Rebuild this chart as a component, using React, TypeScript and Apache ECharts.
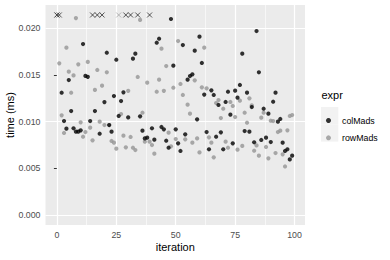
import React, { useEffect, useRef } from "react";
import * as echarts from "echarts";

// iteration index 0..99; null = value above the plotted range (drawn as a cross at the top)
const colMadsTime: (number | null)[] = [
  null, null, 0.0131, 0.01007, 0.00925, 0.01446, 0.01114, 0.00929, 0.00893, 0.00893,
  0.00907, 0.01832, 0.0149, 0.0148, 0.01007, null, 0.01114, null, 0.00871, null,
  0.0121, 0.01739, 0.00964, 0.00893, 0.01275, 0.01664, 0.01061, 0.01221, 0.01314, null,
  0.01046, null, 0.01675, 0.01729, null, 0.01057, 0.00904, 0.00821, 0.00829, null,
  0.00929, 0.00807, 0.01846, 0.01889, 0.00943, 0.00918, 0.00796, 0.00721, 0.021, 0.016,
  0.00918, 0.00768, 0.00686, 0.01821, 0.00864, 0.0145, 0.01489, 0.01507, 0.01761, 0.01025,
  0.01911, 0.01629, 0.0129, 0.00889, 0.00704, 0.01336, 0.01286, 0.00839, 0.01179, 0.00886,
  0.00704, 0.01211, 0.01321, 0.01075, 0.00768, 0.01332, 0.01257, 0.01393, 0.01729, 0.009,
  0.01311, 0.00893, 0.01157, 0.00779, 0.01971, 0.01529, 0.00804, 0.01139, 0.00829, 0.01086,
  0.00782, 0.01214, 0.01311, 0.01, 0.01029, 0.00775, 0.00686, 0.00704, 0.00596, 0.00636,
];

const rowMadsTime: (number | null)[] = [
  null, 0.01625, 0.01068, 0.00879, 0.01793, 0.01536, 0.0131, 0.01496, 0.0211, 0.01614,
  0.00993, 0.00839, 0.00889, 0.0164, 0.00936, 0.008, 0.0134, 0.01554, 0.01, 0.01386,
  0.00964, 0.01529, 0.00964, 0.00793, 0.00775, 0.00711, null, 0.01082, 0.0085, 0.00725,
  0.0133, 0.00836, 0.00721, 0.00696, 0.01479, 0.0209, 0.01096, 0.00786, 0.01418, 0.00786,
  0.0075, 0.00657, 0.01321, 0.0145, 0.01782, 0.0133, 0.01596, 0.00882, 0.00736, 0.01364,
  0.00814, 0.01864, 0.01404, 0.01286, 0.00811, 0.01182, 0.01086, 0.00775, 0.01443, 0.00821,
  0.00671, 0.01368, 0.01793, 0.01357, 0.00832, 0.00775, 0.00618, 0.012, 0.01232, 0.01039,
  0.01139, 0.00786, 0.00721, 0.01211, 0.01168, 0.0105, 0.007, 0.01225, 0.0074, 0.01096,
  0.00989, 0.0125, 0.01175, 0.00689, 0.00746, 0.00636, 0.01043, 0.01096, 0.00729, 0.00607,
  0.0101, 0.01007, 0.00664, 0.00889, 0.00904, 0.0065, 0.0052, 0.00907, 0.01061, 0.01071,
];

const OUTLIER_LEVEL = 0.02143;

const xTicks = [0, 25, 50, 75, 100];
const xMinor = [12.5, 37.5, 62.5, 87.5];
const yTicks = [0, 0.005, 0.01, 0.015, 0.02];
const yMinor = [0.0025, 0.0075, 0.0125, 0.0175];

const seriesNames = ["colMads", "rowMads"];
const legendTitle = "expr";
const xTitle = "iteration";
const yTitle = "time (ms)";

const X_MIN = -4.8;
const X_MAX = 104.4;
const Y_MIN = -0.00107;
const Y_MAX = 0.0225;

const FONT = '"Liberation Sans", Arial, Helvetica, sans-serif';
const MAJOR_W = 1.2;
const MINOR_W = 0.6;

function points(arr: (number | null)[]) {
  const out: [number, number][] = [];
  arr.forEach((v, i) => {
    if (v != null) out.push([i, v]);
  });
  return out;
}
function outliers(arr: (number | null)[]) {
  const out: [number, number][] = [];
  arr.forEach((v, i) => {
    if (v == null) out.push([i, OUTLIER_LEVEL]);
  });
  return out;
}

const CROSS = "path://M0 0L10 10M10 0L0 10";

export default function App() {
  const ref = useRef<HTMLDivElement>(null);
  useEffect(() => {
    if (!ref.current) return;
    const chart = echarts.init(ref.current, undefined, { renderer: "svg" });
    const line = (key: "xAxis" | "yAxis", v: number, w: number) => ({
      [key]: v,
      lineStyle: { color: "#FFFFFF", width: w, type: "solid", opacity: 1 },
    });
    const gridLines: any[] = [
      ...yTicks.map((v) => line("yAxis", v, MAJOR_W)),
      ...yMinor.map((v) => line("yAxis", v, MINOR_W)),
      ...xTicks.map((v) => line("xAxis", v, MAJOR_W)),
      ...xMinor.map((v) => line("xAxis", v, MINOR_W)),
    ];
    const axisCommon = {
      type: "value" as const,
      splitLine: { show: false },
      axisLine: { show: false },
    };
    chart.setOption({
      animation: false,
      textStyle: { fontFamily: FONT },
      grid: {
        left: 45.5,
        top: 5,
        width: 259.5,
        height: 220,
        show: true,
        backgroundColor: "#EBEBEB",
        borderWidth: 0,
        containLabel: false,
        outerBoundsMode: "none",
      },
      xAxis: {
        ...axisCommon,
        min: X_MIN,
        max: X_MAX,
        axisTick: { show: true, length: 3, lineStyle: { color: "#333333", width: 1 }, customValues: xTicks },
        axisLabel: { customValues: xTicks, color: "#4D4D4D", fontSize: 8.8, margin: 5, fontFamily: FONT },
        name: xTitle,
        nameLocation: "middle",
        nameGap: 16,
        nameMoveOverlap: false,
        nameTextStyle: { color: "#000000", fontSize: 11, fontFamily: FONT },
      },
      yAxis: {
        ...axisCommon,
        min: Y_MIN,
        max: Y_MAX,
        axisTick: { show: true, length: 3, lineStyle: { color: "#333333", width: 1 }, customValues: yTicks },
        axisLabel: {
          customValues: yTicks,
          color: "#4D4D4D",
          fontSize: 8.8,
          margin: 5,
          fontFamily: FONT,
          formatter: (v: number) => v.toFixed(3),
        },
        name: yTitle,
        nameLocation: "middle",
        nameGap: 30,
        nameRotate: 90,
        nameMoveOverlap: false,
        nameTextStyle: { color: "#000000", fontSize: 11, fontFamily: FONT },
      },
      legend: {
        data: seriesNames,
        orient: "vertical",
        left: 321,
        top: 110,
        itemWidth: 17,
        itemHeight: 5,
        itemGap: 6.3,
        icon: "circle",
        selectedMode: false,
        textStyle: { fontSize: 8.8, color: "#000000", lineHeight: 11, fontFamily: FONT },
      },
      graphic: [
        { type: "rect", left: 321, top: 107, shape: { width: 17.3, height: 17.3 }, style: { fill: "#F2F2F2" }, z: -1 },
        { type: "rect", left: 321, top: 124.3, shape: { width: 17.3, height: 17.3 }, style: { fill: "#F2F2F2" }, z: -1 },
        {
          type: "text",
          left: 321.5,
          top: 89,
          style: { text: legendTitle, fontSize: 11, fill: "#000000", fontFamily: FONT },
        },
      ],
      series: [
        {
          type: "scatter",
          name: "grid",
          data: [],
          z: 1,
          silent: true,
          markLine: {
            silent: true,
            z: 1,
            symbol: ["none", "none"],
            label: { show: false },
            emphasis: { disabled: true },
            animation: false,
            data: gridLines,
          },
        },
        {
          type: "scatter",
          name: seriesNames[1],
          data: points(rowMadsTime),
          symbolSize: 4.2,
          itemStyle: { color: "#959595" },
          zlevel: 1,
          z: 3,
        },
        {
          type: "scatter",
          name: seriesNames[0],
          data: points(colMadsTime),
          symbolSize: 4.2,
          itemStyle: { color: "#000000" },
          zlevel: 1,
          z: 3,
        },
        {
          type: "scatter",
          name: seriesNames[1] + " (clipped)",
          data: outliers(rowMadsTime),
          symbol: CROSS,
          symbolSize: 5,
          itemStyle: { color: "none", borderColor: "#959595", borderWidth: 0.8 },
          zlevel: 1,
          z: 3,
        },
        {
          type: "scatter",
          name: seriesNames[0] + " (clipped)",
          data: outliers(colMadsTime),
          symbol: CROSS,
          symbolSize: 5,
          itemStyle: { color: "none", borderColor: "#000000", borderWidth: 0.8 },
          zlevel: 1,
          z: 3,
        },
      ],
    });
    return () => chart.dispose();
  }, []);
  return (
    <div
      ref={ref}
      style={{ position: "absolute", left: 0, top: 0, width: 390, height: 260 }}
    />
  );
}
